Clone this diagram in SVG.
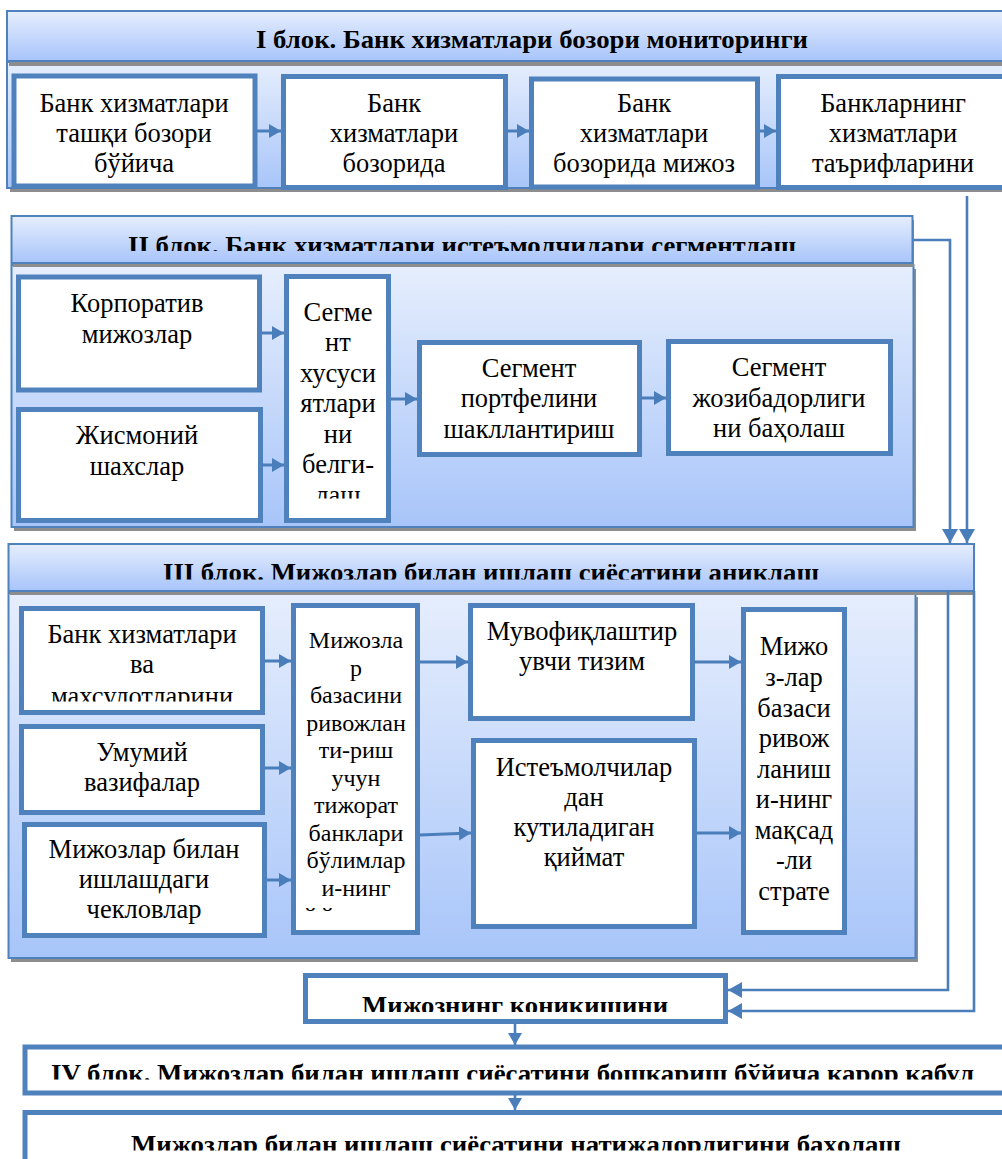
<svg xmlns="http://www.w3.org/2000/svg" width="1002" height="1159" viewBox="0 0 1002 1159">
<defs>
<linearGradient id="gH" x1="0" y1="0" x2="0" y2="1"><stop offset="0" stop-color="#e6eefd"/><stop offset="1" stop-color="#a7c4fa"/></linearGradient>
<linearGradient id="gB" x1="0" y1="0" x2="0" y2="1"><stop offset="0" stop-color="#e6eefd"/><stop offset="1" stop-color="#a8c5f9"/></linearGradient>
<marker id="ah" markerUnits="userSpaceOnUse" markerWidth="16" markerHeight="16" refX="14" refY="8" orient="auto"><path d="M0,0 L14,8 L0,16 z" fill="#4a7ebb"/></marker>
<marker id="ahs" markerUnits="userSpaceOnUse" markerWidth="14" markerHeight="16" refX="12" refY="8" orient="auto"><path d="M0,1 L12,8 L0,15 z" fill="#4a7ebb"/></marker>
<clipPath id="c2"><rect x="0" y="200" width="1002" height="51"/></clipPath>
<clipPath id="c3"><rect x="0" y="540" width="1002" height="39.5"/></clipPath>
<clipPath id="cK"><rect x="300" y="980" width="430" height="32"/></clipPath>
<clipPath id="c4"><rect x="0" y="1050" width="1002" height="29.5"/></clipPath>
<clipPath id="c5"><rect x="0" y="1115" width="1002" height="35.5"/></clipPath>
<clipPath id="cSeg"><rect x="286" y="280" width="104" height="218.5"/></clipPath>
<clipPath id="cB1"><rect x="20" y="610" width="244" height="91.5"/></clipPath>
<clipPath id="cCol"><rect x="293" y="607" width="126" height="304"/></clipPath>
</defs>
<style>
.sh{fill:#8d8d8d}
.hd{fill:url(#gH);stroke:#4f81bd;stroke-width:2}
.bd{fill:url(#gB);stroke:#4f81bd;stroke-width:2}
.bx{fill:#ffffff;stroke:#4f81bd;stroke-width:5}
.t{font-family:"Liberation Serif","Times New Roman","DejaVu Serif",serif;font-size:26.5px;fill:#000;text-anchor:middle}
.tb{font-family:"Liberation Serif","Times New Roman","DejaVu Serif",serif;font-size:26px;font-weight:bold;fill:#000;text-anchor:middle}
.sm{font-size:24px}
.cn{fill:none;stroke:#4a7ebb;stroke-width:2.6}
.cb{fill:none;stroke:#4a7ebb;stroke-width:3}
</style>

<!-- Block I -->
<g id="block1">
<rect class="sh" x="10" y="66" width="1000" height="126"/>
<rect class="bd" x="7" y="62" width="1000" height="126"/>
<rect class="sh" x="9" y="15" width="1000" height="51"/>
<rect class="hd" x="7" y="11" width="1000" height="50"/>
<text class="tb" x="532" y="48" textLength="552" lengthAdjust="spacingAndGlyphs">I блок. Банк хизматлари бозори мониторинги</text>
</g>
<g id="n1a"><rect class="bx" x="14" y="76" width="241" height="110"/>
<text class="t" x="134" y="112">Банк хизматлари</text><text class="t" x="134" y="142">ташқи бозори</text><text class="t" x="134" y="172">бўйича</text></g>
<g id="n1b"><rect class="bx" x="283.5" y="76.5" width="222" height="111"/>
<text class="t" x="394" y="112">Банк</text><text class="t" x="394" y="142">хизматлари</text><text class="t" x="394" y="172">бозорида</text></g>
<g id="n1c"><rect class="bx" x="531.5" y="79" width="226" height="108"/>
<text class="t" x="644" y="112">Банк</text><text class="t" x="644" y="142">хизматлари</text><text class="t" x="644" y="172">бозорида мижоз</text></g>
<g id="n1d"><rect class="bx" x="778.5" y="76.5" width="240" height="111"/>
<text class="t" x="893" y="112">Банкларнинг</text><text class="t" x="893" y="142">хизматлари</text><text class="t" x="893" y="172">таърифларини</text></g>

<!-- Block II -->
<g id="block2">
<rect class="sh" x="14" y="269" width="902" height="262"/>
<rect class="bd" x="11.5" y="265" width="902" height="262"/>
<rect class="sh" x="13" y="220" width="901" height="47"/>
<rect class="hd" x="11.5" y="216" width="901" height="47"/>
<text class="tb" x="462" y="254" textLength="668" lengthAdjust="spacingAndGlyphs" clip-path="url(#c2)">II блок. Банк хизматлари истеъмолчилари сегментлаш</text>
</g>
<g id="n2a"><rect class="bx" x="18.5" y="277" width="241" height="113"/>
<text class="t" x="137" y="312">Корпоратив</text><text class="t" x="137" y="343">мижозлар</text></g>
<g id="n2b"><rect class="bx" x="18.5" y="409.5" width="242" height="111"/>
<text class="t" x="137" y="444">Жисмоний</text><text class="t" x="137" y="475">шахслар</text></g>
<g id="n2c"><rect class="bx" x="286.5" y="276.5" width="102" height="244"/>
<g clip-path="url(#cSeg)">
<text class="t" x="338" y="320.5">Сегме</text><text class="t" x="338" y="351">нт</text><text class="t" x="338" y="381.5">хусуси</text><text class="t" x="338" y="412">ятлари</text><text class="t" x="338" y="442.5">ни</text><text class="t" x="338" y="473">белги-</text><text class="t" x="338" y="504">лаш</text>
</g></g>
<g id="n2d"><rect class="bx" x="419.5" y="342.5" width="220" height="112"/>
<text class="t" x="529" y="377">Сегмент</text><text class="t" x="529" y="407">портфелини</text><text class="t" x="529" y="438">шакллантириш</text></g>
<g id="n2e"><rect class="bx" x="668.5" y="341.5" width="222" height="112"/>
<text class="t" x="779" y="376">Сегмент</text><text class="t" x="779" y="407">жозибадорлиги</text><text class="t" x="779" y="437">ни баҳолаш</text></g>

<!-- Block III -->
<g id="block3">
<rect class="sh" x="11" y="597" width="907" height="365"/>
<rect class="bd" x="8.5" y="593" width="907" height="365"/>
<rect class="sh" x="10" y="548" width="965" height="47"/>
<rect class="hd" x="8.5" y="544" width="965.5" height="47"/>
<text class="tb" x="491" y="581" textLength="656" lengthAdjust="spacingAndGlyphs" clip-path="url(#c3)">III блок. Мижозлар билан ишлаш сиёсатини аниқлаш</text>
</g>
<g id="n3a"><rect class="bx" x="21.5" y="608.5" width="241" height="104"/>
<g clip-path="url(#cB1)"><text class="t" x="142" y="642.5">Банк хизматлари</text><text class="t" x="142" y="673">ва</text><text class="t" x="142" y="705">махсулотларини</text></g></g>
<g id="n3b"><rect class="bx" x="21.5" y="726.5" width="241" height="86"/>
<text class="t" x="142" y="760.5">Умумий</text><text class="t" x="142" y="791">вазифалар</text></g>
<g id="n3c"><rect class="bx" x="24.5" y="824.5" width="240" height="111"/>
<text class="t" x="144" y="857.5">Мижозлар билан</text><text class="t" x="144" y="888">ишлашдаги</text><text class="t" x="144" y="918">чекловлар</text></g>
<g id="n3d"><rect class="bx" x="293.5" y="605.5" width="124" height="327"/>
<g clip-path="url(#cCol)">
<text class="t sm" x="356" y="648">Мижозла</text><text class="t sm" x="356" y="676">р</text><text class="t sm" x="356" y="703">базасини</text><text class="t sm" x="356" y="731">ривожлан</text><text class="t sm" x="356" y="758">ти-риш</text><text class="t sm" x="356" y="786">учун</text><text class="t sm" x="356" y="813">тижорат</text><text class="t sm" x="356" y="841">банклари</text><text class="t sm" x="356" y="868">бўлимлар</text><text class="t sm" x="356" y="896">и-нинг</text><text class="t sm" x="304" y="924" letter-spacing="4.5" style="text-anchor:start">йў</text>
</g></g>
<g id="n3e"><rect class="bx" x="470.5" y="605.5" width="222" height="113"/>
<text class="t" x="582" y="639.5">Мувофиқлаштир</text><text class="t" x="582" y="670">увчи тизим</text></g>
<g id="n3f"><rect class="bx" x="473.5" y="740.5" width="221" height="186"/>
<text class="t" x="584" y="775.5">Истеъмолчилар</text><text class="t" x="584" y="806">дан</text><text class="t" x="584" y="836">кутиладиган</text><text class="t" x="584" y="866">қиймат</text></g>
<g id="n3g"><rect class="bx" x="743.5" y="609.5" width="101" height="323"/>
<text class="t" x="794" y="655">Мижо</text><text class="t" x="794" y="686">з-лар</text><text class="t" x="794" y="716.5">базаси</text><text class="t" x="794" y="747">ривож</text><text class="t" x="794" y="777.5">ланиш</text><text class="t" x="794" y="808">и-нинг</text><text class="t" x="794" y="838.5">мақсад</text><text class="t" x="794" y="869">-ли</text><text class="t" x="794" y="899.5">страте</text></g>

<!-- Bottom -->
<g id="n4a"><rect class="bx" x="305.5" y="975.5" width="420" height="46"/>
<text class="tb" x="515" y="1014" textLength="306" lengthAdjust="spacingAndGlyphs" clip-path="url(#cK)">Мижознинг коникишини</text></g>
<g id="n4b"><rect class="bx" x="25" y="1047" width="990" height="46"/>
<text class="tb" x="512.5" y="1082" textLength="923" lengthAdjust="spacingAndGlyphs" clip-path="url(#c4)">IV блок. Мижозлар билан ишлаш сиёсатини бошкариш бўйича карор кабул</text></g>
<g id="n4c"><rect class="bx" x="25" y="1112.5" width="990" height="60"/>
<text class="tb" x="516" y="1153" textLength="770" lengthAdjust="spacingAndGlyphs" clip-path="url(#c5)">Мижозлар билан ишлаш сиёсатини натижадорлигини баҳолаш</text></g>

<!-- Connectors -->
<g id="connectors">
<line class="cb" x1="257" y1="131" x2="281" y2="131" marker-end="url(#ahs)"/>
<line class="cb" x1="507" y1="131" x2="529" y2="131" marker-end="url(#ahs)"/>
<line class="cb" x1="759" y1="131" x2="776" y2="131" marker-end="url(#ahs)"/>
<line class="cb" x1="262" y1="333" x2="284" y2="333" marker-end="url(#ahs)"/>
<line class="cb" x1="262" y1="465" x2="284" y2="465" marker-end="url(#ahs)"/>
<line class="cb" x1="391" y1="399" x2="417" y2="399" marker-end="url(#ahs)"/>
<line class="cb" x1="642" y1="398" x2="666" y2="398" marker-end="url(#ahs)"/>
<line class="cb" x1="265" y1="661" x2="291" y2="661" marker-end="url(#ahs)"/>
<line class="cb" x1="265" y1="768" x2="291" y2="768" marker-end="url(#ahs)"/>
<line class="cb" x1="267" y1="880" x2="291" y2="880" marker-end="url(#ahs)"/>
<line class="cb" x1="420" y1="662" x2="468" y2="662" marker-end="url(#ahs)"/>
<line class="cb" x1="420" y1="835" x2="471" y2="833" marker-end="url(#ahs)"/>
<line class="cb" x1="695" y1="662" x2="741" y2="662" marker-end="url(#ahs)"/>
<line class="cb" x1="697" y1="833" x2="741" y2="833" marker-end="url(#ahs)"/>
<path class="cn" d="M967,196 V543" marker-end="url(#ah)"/>
<path class="cn" d="M913,240 H950 V543" marker-end="url(#ah)"/>
<path class="cn" d="M948,591 V990 H728" marker-end="url(#ah)"/>
<path class="cn" d="M974,591 V1011 H728" marker-end="url(#ah)"/>
<path class="cn" d="M515,1023 V1045" marker-end="url(#ahs)"/>
<path class="cn" d="M515,1094 V1110" marker-end="url(#ahs)"/>
</g>
</svg>
